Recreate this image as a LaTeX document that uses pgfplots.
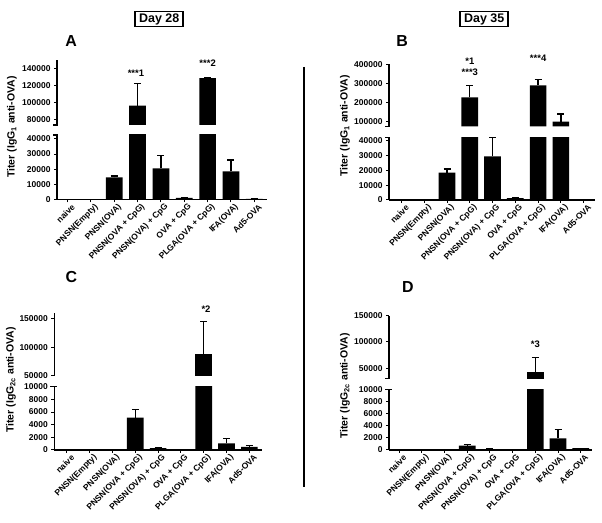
\documentclass[border=0pt]{standalone}
\usepackage{fontspec}
\setmainfont{Liberation Sans}
\usepackage{pgfplots}
\pgfplotsset{compat=1.18}
\usepackage{pgfplotstable}

\pgfplotstableread{
x y e
0 0 0
1 0 0
2 14500 1000
3 96500 25500
4 20500 8400
5 1000 300
6 128600 0
7 18500 7500
8 300 0
}\dataA
\pgfplotstableread{
x y e
0 0 0
1 0 0
2 18500 2500
3 226000 61000
4 29600 12600
5 1200 300
6 290000 32000
7 100000 39000
8 300 0
}\dataB
\pgfplotstableread{
x y e
0 0 0
1 0 0
2 0 0
3 5100 1300
4 300 100
5 0 0
6 88000 58000
7 1060 730
8 500 200
}\dataC
\pgfplotstableread{
x y e
0 0 0
1 0 0
2 50 0
3 700 150
4 150 0
5 0 0
6 43700 26700
7 1900 1450
8 300 0
}\dataD

\pgfplotsset{
  panel/.style={scale only axis, anchor=south west, clip mode=individual,
    axis line style={-, line width=1.3bp, black},
    tick style={line width=1bp, black},
    major tick length=3bp, tick align=outside,
    scaled y ticks=false,
    ticklabel style={font=\fontsize{8.5}{10}\selectfont\bfseries},
    /pgf/number format/assume math mode=true,
    ybar, bar width=16.7bp},
  lowpanel/.style={panel, axis x line*=bottom, axis y line*=left,
    xtick={0,...,8},
    xticklabels={naive, PNSN(Empty), PNSN(OVA), PNSN(OVA + CpG), PNSN(OVA) + CpG, OVA + CpG, PLGA(OVA + CpG), IFA(OVA), Ad5-OVA},
    xticklabel style={rotate=45, anchor=east, inner sep=1bp, yshift=-6.5bp, xshift=3bp}},
  uppanel/.style={panel, axis x line=none, axis y line*=left},
  barplot/.style={fill=black, draw=none,
    error bars/.cd, y dir=plus, y explicit,
    error bar style={draw=black, line width=1.3bp},
    error mark options={draw=black, line width=1.3bp, mark size=3.5bp, rotate=90}},
}
\tikzset{ann/.style={font=\fontsize{9.5}{11}\selectfont\bfseries, inner sep=0pt},
  ylab/.style={font=\fontsize{10.5}{12}\selectfont\bfseries, rotate=90},
  ptitle/.style={font=\fontsize{16}{18}\selectfont\bfseries},
  daybox/.style={draw, line width=1.5bp, font=\fontsize{12.5}{14}\selectfont\bfseries, minimum width=48bp, minimum height=15bp, inner sep=0pt}}

\begin{document}
\begin{tikzpicture}[x=1bp,y=1bp]
\useasboundingbox (0,0) rectangle (602,523);

% ---------- Panel A ----------
\begin{axis}[lowpanel, at={(57bp,323.7bp)}, width=209.7bp, height=64.3bp,
  xmin=-0.45, xmax=8.53, ymin=0, ymax=42650, ytick={0,10000,20000,30000,40000},
  yticklabels={0,10000,20000,30000,40000}]
\addplot[barplot] table[x=x,y=y,y error=e]{\dataA};
\draw[line width=1.3bp] ([xshift=-4bp]rel axis cs:0,1) -- ([xshift=0.6bp]rel axis cs:0,1);
\end{axis}
\begin{axis}[uppanel, at={(57bp,398bp)}, width=209.7bp, height=65bp,
  xmin=-0.45, xmax=8.53, ymin=74000, ymax=149600, ytick={80000,100000,120000,140000},
  yticklabels={80000,100000,120000,140000}]
\addplot[restrict y to domain=74000:1000000, barplot] table[x=x,y=y,y error=e]{\dataA};
\draw[line width=1.3bp] ([xshift=-4bp]rel axis cs:0,0) -- ([xshift=0.6bp]rel axis cs:0,0);
\node[ann] at (axis cs:2.93,134000) {***1};
\node[ann] at (axis cs:6,146000) {***2};
\end{axis}

% ---------- Panel B ----------
\begin{axis}[lowpanel, at={(389bp,323bp)}, width=206bp, height=62.7bp,
  xmin=-0.55, xmax=8.5, ymin=0, ymax=42500, ytick={0,10000,20000,30000,40000},
  yticklabels={0,10000,20000,30000,40000}]
\addplot[barplot] table[x=x,y=y,y error=e]{\dataB};
\draw[line width=1.3bp] ([xshift=-4bp]rel axis cs:0,1) -- ([xshift=0.6bp]rel axis cs:0,1);
\end{axis}
\begin{axis}[uppanel, at={(389bp,396.5bp)}, width=206bp, height=62.2bp,
  xmin=-0.55, xmax=8.5, ymin=74000, ymax=400000, ytick={100000,200000,300000,400000},
  yticklabels={100000,200000,300000,400000}]
\addplot[restrict y to domain=74000:1000000, barplot] table[x=x,y=y,y error=e]{\dataB};
\draw[line width=1.3bp] ([xshift=-4bp]rel axis cs:0,0) -- ([xshift=0.6bp]rel axis cs:0,0);
\node[ann] at (axis cs:3,413600) {*1};
\node[ann] at (axis cs:3,356000) {***3};
\node[ann] at (axis cs:6,431400) {***4};
\end{axis}

% ---------- Panel C ----------
\begin{axis}[lowpanel, at={(54.3bp,73bp)}, width=207.4bp, height=63.3bp,
  xmin=-0.55, xmax=8.54, ymin=0, ymax=10000, ytick={0,2000,4000,6000,8000,10000},
  yticklabels={0,2000,4000,6000,8000,10000}]
\addplot[barplot] table[x=x,y=y,y error=e]{\dataC};
\draw[line width=1.3bp] ([xshift=-4bp]rel axis cs:0,1) -- ([xshift=3bp]rel axis cs:0,1);
\end{axis}
\begin{axis}[uppanel, at={(54.3bp,147bp)}, width=207.4bp, height=62.7bp,
  xmin=-0.55, xmax=8.54, ymin=50000, ymax=160000, ytick={50000,100000,150000},
  yticklabels={50000,100000,150000}]
\addplot[restrict y to domain=50000:1000000, barplot] table[x=x,y=y,y error=e]{\dataC};
\node[ann] at (axis cs:6.1,167500) {*2};
\end{axis}

% ---------- Panel D ----------
\begin{axis}[lowpanel, at={(389bp,73bp)}, width=202.7bp, height=60.7bp,
  xmin=-0.44, xmax=8.48, ymin=0, ymax=10000, ytick={0,2000,4000,6000,8000,10000},
  yticklabels={0,2000,4000,6000,8000,10000}]
\addplot[barplot] table[x=x,y=y,y error=e]{\dataD};
\draw[line width=1.3bp] ([xshift=-4bp]rel axis cs:0,1) -- ([xshift=3bp]rel axis cs:0,1);
\end{axis}
\begin{axis}[uppanel, at={(389bp,144.3bp)}, width=202.7bp, height=63bp,
  xmin=-0.44, xmax=8.48, ymin=30000, ymax=150000, ytick={50000,100000,150000},
  yticklabels={50000,100000,150000}]
\addplot[restrict y to domain=30000:1000000, barplot] table[x=x,y=y,y error=e]{\dataD};
\draw[line width=1.3bp] ([xshift=-4bp]rel axis cs:0,0) -- ([xshift=0.6bp]rel axis cs:0,0);
\node[ann] at (axis cs:6,94800) {*3};
\end{axis}

% ---------- labels and decorations ----------
\node[ylab] at (12,396) {Titer (IgG\textsubscript{1} anti-OVA)};
\node[ylab] at (345,397) {Titer (IgG\textsubscript{1} anti-OVA)};
\node[ylab] at (11,143) {Titer (IgG\textsubscript{2c} anti-OVA)};
\node[ylab] at (345,137) {Titer (IgG\textsubscript{2c} anti-OVA)};

\node[ptitle] at (71.2,482) {A};
\node[ptitle] at (402,482) {B};
\node[ptitle] at (71.5,245.5) {C};
\node[ptitle] at (407.8,235.5) {D};

\node[daybox] at (159.2,503.8) {Day 28};
\node[daybox] at (484.2,503.8) {Day 35};

\draw[line width=2bp] (303.5,456) -- (303.5,36);
\end{tikzpicture}
\end{document}
